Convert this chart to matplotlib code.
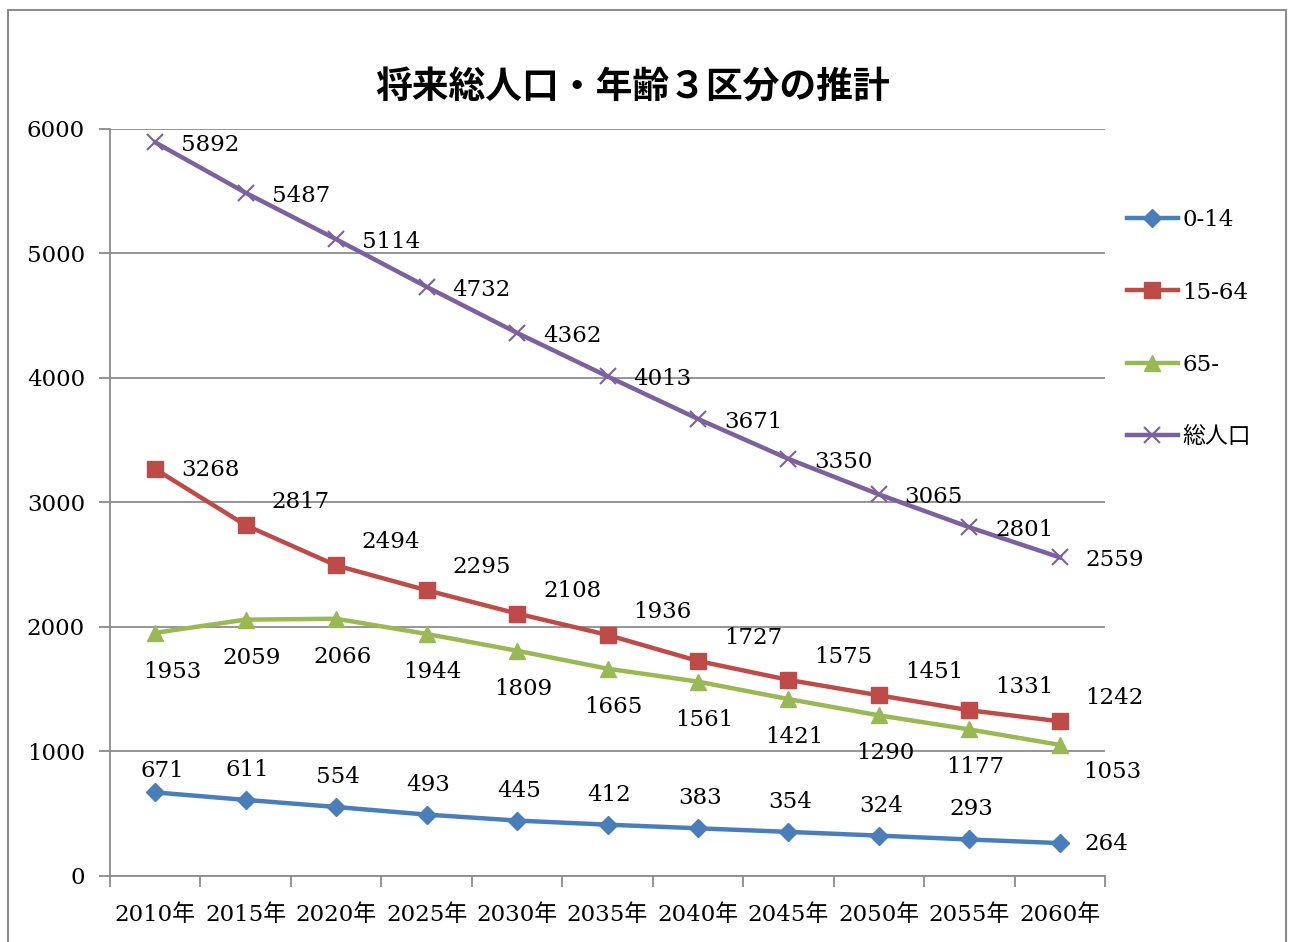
import matplotlib
matplotlib.use("Agg")
import matplotlib.pyplot as plt
from matplotlib.patches import Rectangle

plt.rcParams['font.family'] = ['DejaVu Serif', 'Noto Sans CJK JP']

# 将来推計の値（単位：人）
years = ['2010年', '2015年', '2020年', '2025年', '2030年', '2035年',
         '2040年', '2045年', '2050年', '2055年', '2060年']
age_0_14 = [671, 611, 554, 493, 445, 412, 383, 354, 324, 293, 264]
age_15_64 = [3268, 2817, 2494, 2295, 2108, 1936, 1727, 1575, 1451, 1331, 1242]
age_65 = [1953, 2059, 2066, 1944, 1809, 1665, 1561, 1421, 1290, 1177, 1053]
total = [5892, 5487, 5114, 4732, 4362, 4013, 3671, 3350, 3065, 2801, 2559]

fig = plt.figure(figsize=(12.93, 9.42), dpi=100)
ax = fig.add_axes([0.0851, 0.0701, 0.7695, 0.7930])

# 外枠
fig.patches.append(Rectangle((8 / 1293, -0.05), 1278 / 1293, 1.05 - 10 / 942,
                             transform=fig.transFigure, fill=False,
                             edgecolor='#8c8c8c', linewidth=1.5))

x = list(range(len(years)))
lw = 3.2
ax.plot(x, age_0_14, color='#4A7EBB', lw=lw, marker='D', ms=9, label='0-14')
ax.plot(x, age_15_64, color='#BE4B48', lw=lw, marker='s', ms=11, label='15-64')
ax.plot(x, age_65, color='#98B954', lw=lw, marker='^', ms=12, label='65-')
ax.plot(x, total, color='#7D60A0', lw=lw, marker='x', ms=12, mew=1.5, label='総人口')

fs = 16.5


def put_labels(vals, dx, dy, first=None, last=None):
    for i, v in enumerate(vals):
        ox, oy = dx, dy
        if i == 0 and first is not None:
            ox, oy = first
        if i == len(vals) - 1 and last is not None:
            ox, oy = last
        ax.annotate(str(v), (i, v), xytext=(ox, oy), textcoords='offset pixels',
                    ha='center', va='center', fontsize=fs)


put_labels(age_0_14, 2, 30, first=(7, 21), last=(47, -1))
put_labels(age_15_64, 55, 23, first=(55, -1))
put_labels(age_65, 6, -38, first=(17, -39), last=(53, -27))
put_labels(total, 55, -3)

ax.set_xlim(-0.5, len(years) - 0.5)
ax.set_ylim(0, 6000)
ax.set_yticks(range(0, 6001, 1000))
ax.set_xticks(x)
ax.set_xticklabels(years)
ax.set_xticks([i - 0.5 for i in range(len(years) + 1)], minor=True)
ax.tick_params(axis='x', which='major', length=0, pad=20, labelsize=fs)
ax.tick_params(axis='x', which='minor', length=8, width=1.3, color='#8c8c8c')
ax.tick_params(axis='y', length=8, width=1.3, color='#8c8c8c', pad=10, labelsize=fs)

ax.grid(axis='y', color='#8c8c8c', lw=1.3)
ax.set_axisbelow(True)
for s in ['top', 'right']:
    ax.spines[s].set_visible(False)
for s in ['left', 'bottom']:
    ax.spines[s].set_color('#8c8c8c')
    ax.spines[s].set_linewidth(1.3)

fig.text(0.489, 0.907, '将来総人口・年齢３区分の推計', ha='center', va='center',
         fontsize=26.5, fontweight='bold', family='Noto Sans CJK JP')

ax.legend(loc='upper left', bbox_to_anchor=(1.013, 0.905), frameon=False,
          fontsize=fs, handlelength=2.2, handletextpad=0.2, labelspacing=2.2,
          borderaxespad=0)

fig.savefig('out.png', dpi=100)
